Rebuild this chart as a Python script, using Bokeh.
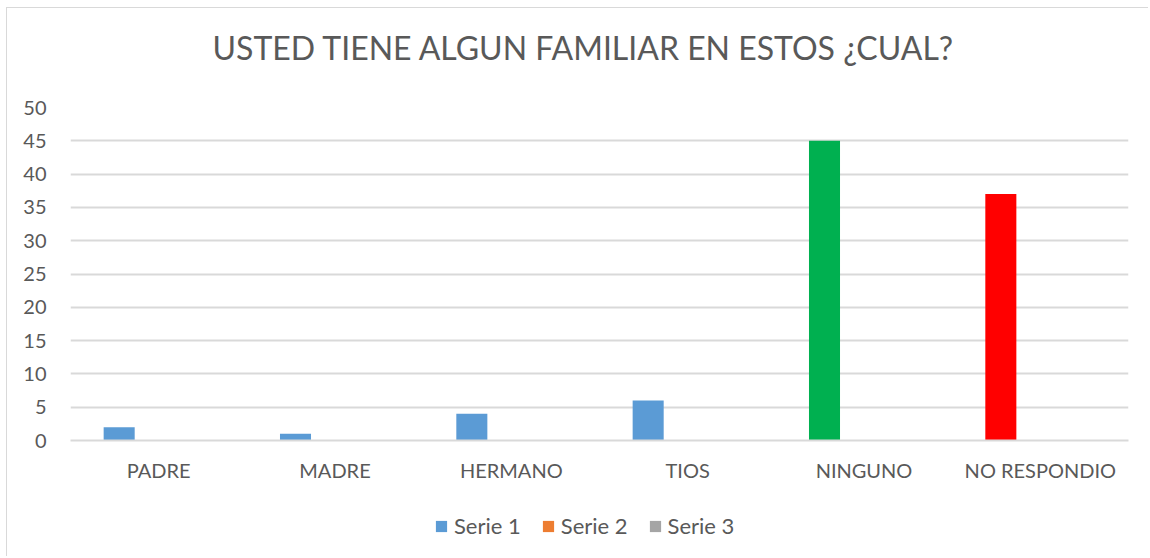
from bokeh.plotting import figure
from bokeh.layouts import column
from bokeh.models import FactorRange, Range1d, Legend, LegendItem, ColumnDataSource, Title
from bokeh.transform import dodge
from bokeh.embed import file_html
from bokeh.resources import INLINE

categories = ["PADRE", "MADRE", "HERMANO", "TIOS", "NINGUNO", "NO RESPONDIO"]
serie1 = [2, 1, 4, 6, 45, 37]
serie2 = [0, 0, 0, 0, 0, 0]
serie3 = [0, 0, 0, 0, 0, 0]
serie1_colors = ["#5B9BD5", "#5B9BD5", "#5B9BD5", "#5B9BD5", "#00B050", "#FF0000"]
series_names = ["Serie 1", "Serie 2", "Serie 3"]
series_colors = ["#5B9BD5", "#ED7D31", "#A5A5A5"]
y_ticks = [0, 5, 10, 15, 20, 25, 30, 35, 40, 45, 50]
title_text = "USTED TIENE ALGUN FAMILIAR EN ESTOS ¿CUAL?"

FONT = "Lato"
TXT = "#595959"
GRID = "#D9D9D9"

src = ColumnDataSource(dict(cat=categories, s1=serie1, s2=serie2, s3=serie3, c1=serie1_colors))

p = figure(width=1141, height=492, x_range=FactorRange(*categories), y_range=Range1d(0, 50),
           output_backend="svg", toolbar_location=None, title=None,
           min_border_left=63, min_border_right=20, min_border_top=99, min_border_bottom=60)
p.outline_line_color = None

# blank spacer between the title and the plot area
p.add_layout(Title(text=" ", text_font=FONT, text_font_size="14px", standoff=2), "above")
t = Title(text=title_text, align="left", offset=142, vertical_align="top",
          text_font=FONT, text_font_size="32px",
          text_font_style="normal", text_color=TXT, standoff=35)
p.add_layout(t, "above")

bw = 0.176
off = 0.224
p.vbar(x=dodge("cat", -off, range=p.x_range), top="s1", width=bw, source=src,
       fill_color="c1", line_color=None)
p.vbar(x=dodge("cat", 0.0, range=p.x_range), top="s2", width=bw, source=src,
       fill_color=series_colors[1], line_color=None)
p.vbar(x=dodge("cat", off, range=p.x_range), top="s3", width=bw, source=src,
       fill_color=series_colors[2], line_color=None)

p.yaxis.ticker = y_ticks
p.yaxis.axis_line_color = None
p.yaxis.major_tick_line_color = None
p.yaxis.minor_tick_line_color = None
p.yaxis.major_label_text_font = FONT
p.yaxis.major_label_text_font_size = "20px"
p.yaxis.major_label_text_color = TXT
p.yaxis.major_label_standoff = 18

p.xaxis.axis_line_color = GRID
p.xaxis.axis_line_width = 2
p.xaxis.major_tick_line_color = None
p.xaxis.minor_tick_line_color = None
p.xaxis.major_label_text_font = FONT
p.xaxis.major_label_text_font_size = "20px"
p.xaxis.major_label_text_color = TXT
p.xaxis.major_label_standoff = 11

p.xgrid.visible = False
p.ygrid.grid_line_color = GRID
p.ygrid.grid_line_width = 2

# legend strip (separate figure, renderers kept out of view)
pl = figure(width=1141, height=56, x_range=p.x_range, y_range=Range1d(100, 101),
            output_backend="svg", toolbar_location=None, x_axis_type=None, y_axis_type=None,
            min_border=0)
pl.outline_line_color = None
pl.xgrid.visible = False
pl.ygrid.visible = False
lr = [pl.vbar(x="cat", top=s, width=bw, source=src, fill_color=c, line_color=None)
      for s, c in zip(["s1", "s2", "s3"], series_colors)]

legend = Legend(items=[LegendItem(label=n, renderers=[r]) for n, r in zip(series_names, lr)],
                orientation="horizontal", location=(364, 17),
                glyph_width=14, glyph_height=14, label_text_font=FONT,
                label_text_font_size="22px", label_text_color=TXT,
                label_standoff=6, spacing=20, border_line_color=None,
                background_fill_alpha=0, margin=0, padding=0)
pl.add_layout(legend, "center")

layout = column(p, pl, spacing=0,
                styles={"margin-left": "6px", "margin-top": "7px",
                        "border-left": "1px solid #D9D9D9", "border-top": "1px solid #D9D9D9"})
open("out.html", "w").write(file_html(layout, INLINE))
